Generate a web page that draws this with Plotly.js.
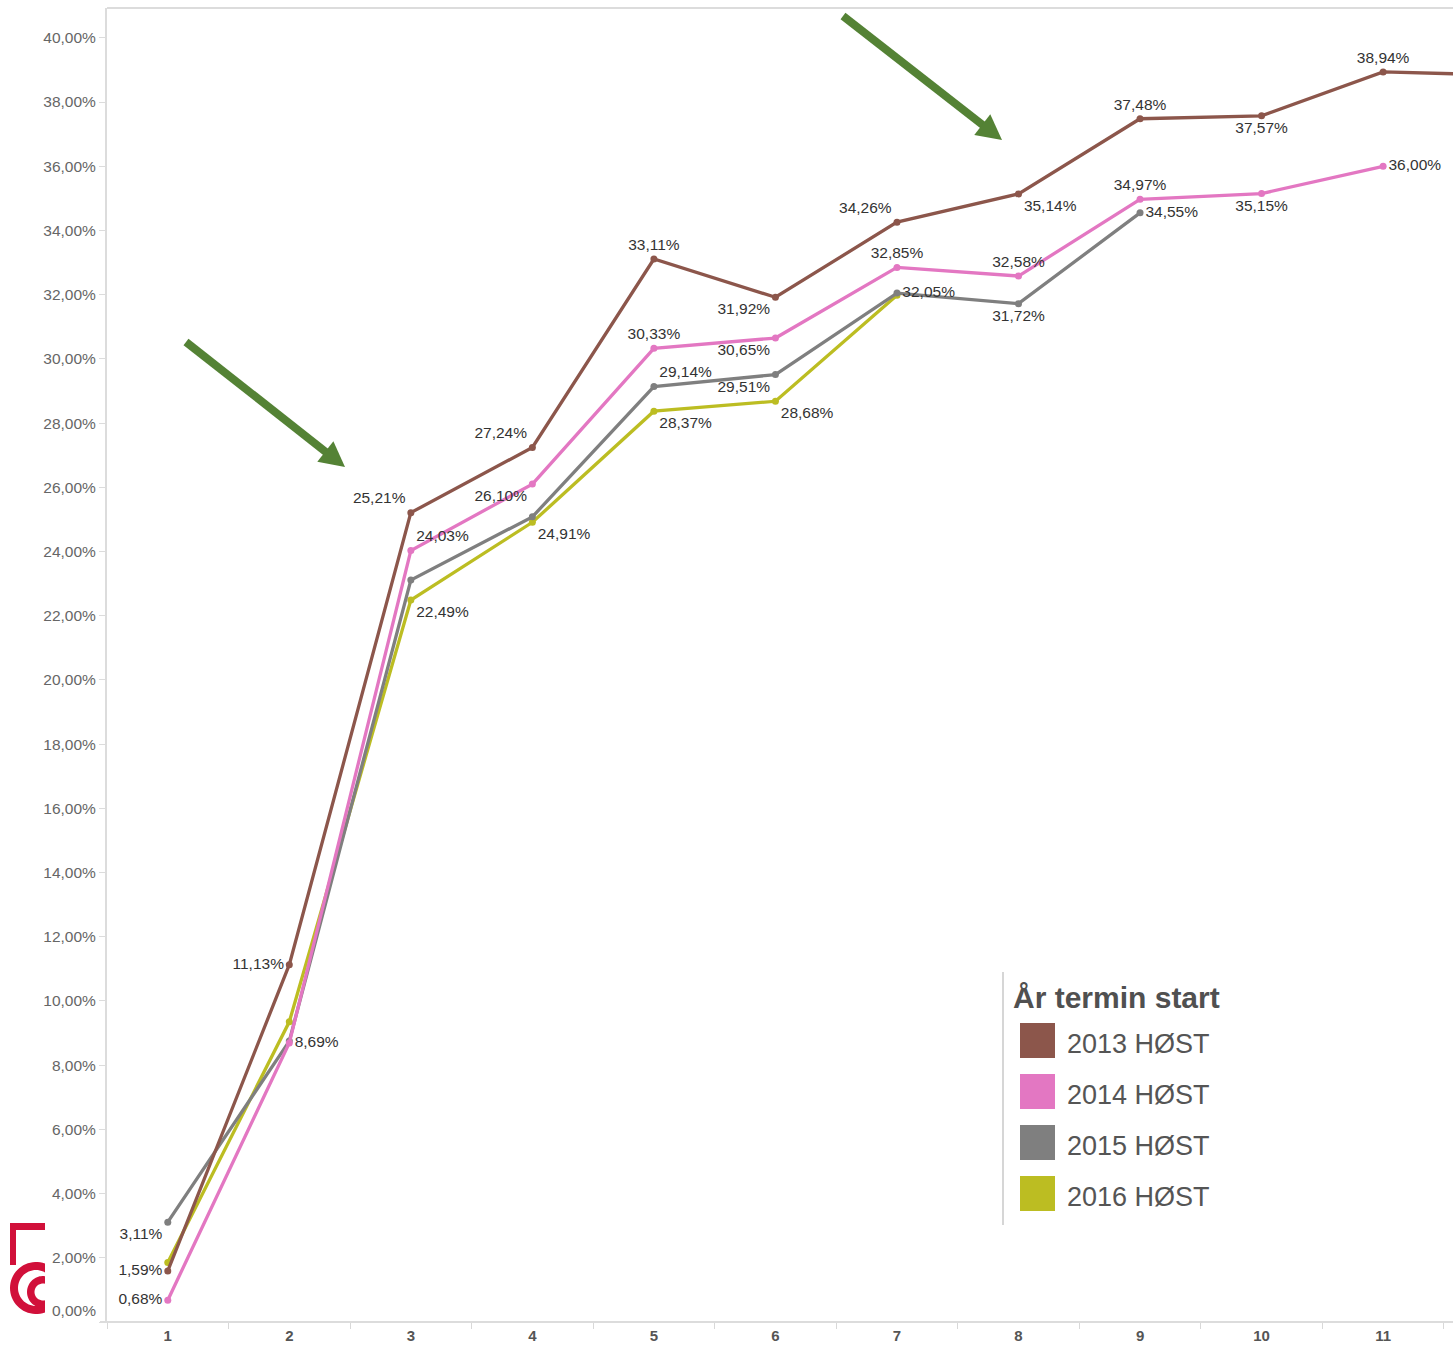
<!DOCTYPE html>
<html>
<head>
<meta charset="utf-8">
<script src="https://cdn.plot.ly/plotly-3.0.1.min.js"></script>
<style>
  html, body { margin: 0; padding: 0; background: #fff; }
  #chart { width: 1453px; height: 1355px; }
</style>
</head>
<body>
<div id="chart"></div>
<script>
// ---------- DATA ----------
const categories = [1, 2, 3, 4, 5, 6, 7, 8, 9, 10, 11, 12];
const xTickLabels = ['1', '2', '3', '4', '5', '6', '7', '8', '9', '10', '11', '12'];

const seriesNames = ['2013 HØST', '2014 HØST', '2015 HØST', '2016 HØST'];
const seriesColors = ['#8c564b', '#e377c2', '#7f7f7f', '#bcbd22'];

const v2013 = [1.59, 11.13, 25.21, 27.24, 33.11, 31.92, 34.26, 35.14, 37.48, 37.57, 38.94, 38.84];
const v2014 = [0.68, 8.69, 24.03, 26.10, 30.33, 30.65, 32.85, 32.58, 34.97, 35.15, 36.00];
const v2015 = [3.11, 8.75, 23.11, 25.08, 29.14, 29.51, 32.05, 31.72, 34.55];
const v2016 = [1.85, 9.35, 22.49, 24.91, 28.37, 28.68, 31.98];

// label placement per point ('' = no label)
const pos2013 = ['middle left', 'middle left', 'top left', 'top left', 'top center', 'bottom left', 'top left', 'bottom right', 'top center', 'bottom center', 'top center', ''];
const pos2014 = ['middle left', 'middle right', 'top right', 'bottom left', 'top center', 'bottom left', 'top center', 'top center', 'top center', 'bottom center', 'middle right'];
const pos2015 = ['bottom left', '', '', '', 'top right', 'bottom left', 'middle right', 'bottom center', 'middle right'];
const pos2016 = ['', '', 'bottom right', 'bottom right', 'bottom right', 'bottom right', ''];

const yTickVals = [0, 2, 4, 6, 8, 10, 12, 14, 16, 18, 20, 22, 24, 26, 28, 30, 32, 34, 36, 38, 40];
const yTickLabels = ['', '2,00%', '4,00%', '6,00%', '8,00%', '10,00%', '12,00%', '14,00%', '16,00%', '18,00%', '20,00%',
  '22,00%', '24,00%', '26,00%', '28,00%', '30,00%', '32,00%', '34,00%', '36,00%', '38,00%', '40,00%'];
const zeroLabel = '0,00%';
const legendTitle = 'År termin start';

// ---------- LAYOUT GEOMETRY ----------
const W = 1453, H = 1355;
const M = { l: 107, r: 0, t: 8, b: 33 };
const PW = W - M.l - M.r, PH = H - M.t - M.b;
const px = p => (p - M.l) / PW;          // pixel x -> paper x
const py = p => (H - M.b - p) / PH;       // pixel y -> paper y

const FONT = 'Liberation Sans, Arial, sans-serif';
const fmt = v => v.toFixed(2).replace('.', ',') + '%';

function makeTrace(vals, pos, i) {
  const n = vals.length;
  return {
    type: 'scatter',
    mode: 'lines+markers+text',
    name: seriesNames[i],
    x: categories.slice(0, n),
    y: vals,
    text: vals.map((v, k) => pos[k] ? fmt(v) : ''),
    textposition: pos.map(p => p || 'top center'),
    textfont: { family: FONT, size: 15.5, color: '#333' },
    line: { color: seriesColors[i], width: 3.3 },
    marker: { color: seriesColors[i], size: 7 },
    cliponaxis: false,
    showlegend: false,
    hoverinfo: 'x+y+name'
  };
}

// draw order: 2016 bottom, 2013 on top
const traces = [
  makeTrace(v2016, pos2016, 3),
  makeTrace(v2015, pos2015, 2),
  makeTrace(v2014, pos2014, 1),
  makeTrace(v2013, pos2013, 0)
];

const shapes = [];
const annotations = [];

// top border line and bottom axis line
shapes.push({ type: 'line', xref: 'paper', yref: 'paper', x0: px(107), x1: px(1453), y0: py(8), y1: py(8), line: { color: '#dcdcdc', width: 2 } });
shapes.push({ type: 'line', xref: 'paper', yref: 'paper', x0: px(100), x1: px(1453), y0: py(1322), y1: py(1322), line: { color: '#dcdcdc', width: 2 } });

// green arrows
function arrow(tx, ty, hx, hy, color) {
  const dx = hx - tx, dy = hy - ty, L = Math.hypot(dx, dy);
  const ux = dx / L, uy = dy / L, nx = -uy, ny = ux;
  const hl = 25, hw = 13;
  const bx = hx - hl * ux, by = hy - hl * uy;
  shapes.push({ type: 'line', xref: 'paper', yref: 'paper', x0: px(tx), y0: py(ty), x1: px(bx + 2 * ux), y1: py(by + 2 * uy), line: { color: color, width: 8 } });
  const p1 = [bx + hw * nx, by + hw * ny], p2 = [bx - hw * nx, by - hw * ny];
  shapes.push({
    type: 'path', xref: 'paper', yref: 'paper', fillcolor: color, line: { width: 0 },
    path: `M ${px(hx)} ${py(hy)} L ${px(p1[0])} ${py(p1[1])} L ${px(p2[0])} ${py(p2[1])} Z`
  });
}
arrow(186, 342, 345, 467, '#548235');
arrow(843, 16, 1002, 140, '#548235');

// red logo (partially visible) bottom-left
const red = '#d1103a';
shapes.push({ type: 'rect', xref: 'paper', yref: 'paper', x0: px(10), x1: px(16), y0: py(1265), y1: py(1223), fillcolor: red, line: { width: 0 } });
shapes.push({ type: 'rect', xref: 'paper', yref: 'paper', x0: px(10), x1: px(45), y0: py(1230), y1: py(1223), fillcolor: red, line: { width: 0 } });
function ring(cx, cy, ro, ri, clipX) {
  const ao = Math.acos(Math.min(1, (clipX - cx) / ro));
  const ai = Math.acos(Math.min(1, (clipX - cx) / ri));
  const pts = [];
  const N = 40;
  for (let k = 0; k <= N; k++) {
    const a = ao + (2 * Math.PI - 2 * ao) * k / N;
    pts.push([cx + ro * Math.cos(a), cy - ro * Math.sin(a)]);
  }
  for (let k = N; k >= 0; k--) {
    const a = ai + (2 * Math.PI - 2 * ai) * k / N;
    pts.push([cx + ri * Math.cos(a), cy - ri * Math.sin(a)]);
  }
  const path = 'M ' + pts.map(p => `${px(p[0])} ${py(p[1])}`).join(' L ') + ' Z';
  shapes.push({ type: 'path', xref: 'paper', yref: 'paper', path: path, fillcolor: red, line: { width: 0 } });
}
ring(36, 1288, 26, 18, 45);
ring(43, 1292, 16, 8.5, 45);

// zero tick label (shifted up as in reference)
annotations.push({ xref: 'paper', yref: 'paper', x: px(98), y: py(1310), xanchor: 'right', yanchor: 'middle', showarrow: false,
  text: zeroLabel, font: { family: FONT, size: 15.5, color: '#666' } });

// legend (drawn as layout decoration)
shapes.push({ type: 'line', xref: 'paper', yref: 'paper', x0: px(1003), x1: px(1003), y0: py(972), y1: py(1225), line: { color: '#d6d6d6', width: 2 } });
annotations.push({ xref: 'paper', yref: 'paper', x: px(1011), y: py(997), xanchor: 'left', yanchor: 'middle', showarrow: false,
  text: legendTitle, font: { family: FONT, size: 30, color: '#505050', weight: 'bold' } });
seriesNames.forEach((nm, i) => {
  const top = 1023 + i * 51;
  shapes.push({ type: 'rect', xref: 'paper', yref: 'paper', x0: px(1020), x1: px(1055), y0: py(top + 35), y1: py(top), fillcolor: seriesColors[i], line: { width: 0 } });
  annotations.push({ xref: 'paper', yref: 'paper', x: px(1065), y: py(top + 21), xanchor: 'left', yanchor: 'middle', showarrow: false,
    text: nm, font: { family: FONT, size: 27, color: '#555' } });
});

const layout = {
  width: W, height: H,
  margin: M,
  paper_bgcolor: '#fff', plot_bgcolor: '#fff',
  showlegend: false,
  xaxis: {
    range: [0.5, 11.575],
    tickmode: 'array', tickvals: categories, ticktext: xTickLabels,
    ticks: '', showgrid: false, zeroline: false, showline: false,
    ticklabelstandoff: 3,
    tickfont: { family: FONT, size: 15, color: '#555', weight: 'bold' },
    minor: { ticks: 'outside', ticklen: 6, tickcolor: '#d8d8d8', tickwidth: 1, tick0: 0.5, dtick: 1, showgrid: false },
    fixedrange: true
  },
  yaxis: {
    range: [0, 40.93],
    tickmode: 'array', tickvals: yTickVals, ticktext: yTickLabels,
    ticks: 'outside', ticklen: 6, tickcolor: '#dcdcdc', tickwidth: 1,
    showgrid: false, zeroline: false,
    showline: true, linecolor: '#dcdcdc', linewidth: 2,
    tickfont: { family: FONT, size: 15.5, color: '#666' },
    fixedrange: true
  },
  shapes: shapes,
  annotations: annotations
};

Plotly.newPlot('chart', traces, layout, { staticPlot: true, displayModeBar: false });
</script>
</body>
</html>
